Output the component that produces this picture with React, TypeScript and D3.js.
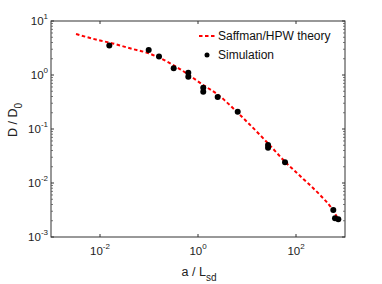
import React from 'react';
import * as d3 from 'd3';

// simulation points (a / L_sd, D / D0)
const simA = [0.0155, 0.0986, 0.16, 0.319, 0.634, 0.634, 1.28, 1.28, 2.52, 6.46, 26.9, 26.9, 59.7, 577, 625, 731];
const simD = [3.5, 2.9, 2.2, 1.33, 1.1, 0.93, 0.58, 0.49, 0.39, 0.209, 0.0506, 0.045, 0.0242, 0.00316, 0.00222, 0.00213];

// Saffman/HPW theory curve
const theoryA = [0.00324, 0.01, 0.016, 0.0409, 0.0986, 0.313, 1.28, 2.59, 7.2, 26.8, 59.7, 141, 309, 535, 690];
const theoryD = [5.74, 4.35, 3.96, 3.12, 2.52, 1.53, 0.653, 0.427, 0.182, 0.0543, 0.0248, 0.0119, 0.006, 0.0034, 0.00235];

const xTickExp = [-2, 0, 2];
const yTickExp = [-3, -2, -1, 0, 1];
const legendLabels = ['Saffman/HPW theory', 'Simulation'];

const W = 382, H = 284;
const left = 51, right = 345, top = 21, bottom = 237;
const font = '"Liberation Sans", Arial, sans-serif';

const App = () => {
  const x = d3.scaleLog().domain([1e-3, 1e3]).range([left, right]);
  const y = d3.scaleLog().domain([1e-3, 1e1]).range([bottom, top]);

  const line = d3.line<number>()
    .x((d, i) => x(theoryA[i]))
    .y(d => y(d))
    .curve(d3.curveMonotoneX);

  // minor ticks on y: 2..9 of each decade
  const yMinor: number[] = [];
  for (let e = -3; e < 1; e++) {
    for (let m = 2; m <= 9; m++) yMinor.push(m * Math.pow(10, e));
  }

  return (
    <svg width={W} height={H} style={{position: 'absolute', left: 0, top: 0, background: '#fff'}}
      fontFamily={font}>
      {/* theory line */}
      <path d={line(theoryD) || ''} fill="none" stroke="#ff0000" strokeWidth={2}
        strokeDasharray="3.5,2.5" />

      {/* simulation points */}
      {simA.map((a, i) => (
        <circle key={i} cx={x(a)} cy={y(simD[i])} r={3} fill="#000" />
      ))}

      {/* box */}
      <rect x={left} y={top} width={right - left} height={bottom - top}
        fill="none" stroke="#333" strokeWidth={1} />

      {/* y ticks */}
      {yTickExp.map(e => {
        const yy = y(Math.pow(10, e));
        return (
          <g key={'y' + e}>
            <line x1={left} x2={left + 3} y1={yy} y2={yy} stroke="#333" />
            <line x1={right} x2={right - 3} y1={yy} y2={yy} stroke="#333" />
            <text x={48} y={yy + 4} textAnchor="end" fontSize={11.5} fill="#222">
              10<tspan dy={-6} fontSize={8}>{e}</tspan>
            </text>
          </g>
        );
      })}
      {yMinor.map((v, i) => (
        <g key={'ym' + i}>
          <line x1={left} x2={left + 2} y1={y(v)} y2={y(v)} stroke="#555" strokeWidth={0.8} />
          <line x1={right} x2={right - 2} y1={y(v)} y2={y(v)} stroke="#555" strokeWidth={0.8} />
        </g>
      ))}

      {/* x ticks */}
      {xTickExp.map(e => {
        const xx = x(Math.pow(10, e));
        return (
          <g key={'x' + e}>
            <line x1={xx} x2={xx} y1={bottom} y2={bottom - 3} stroke="#333" />
            <line x1={xx} x2={xx} y1={top} y2={top + 3} stroke="#333" />
            <text x={xx} y={255} textAnchor="middle" fontSize={11.5} fill="#222">
              10<tspan dy={-6} fontSize={8}>{e}</tspan>
            </text>
          </g>
        );
      })}

      {/* axis titles */}
      <text x={199} y={276} textAnchor="middle" fontSize={12.5} fill="#222">
        a / L<tspan dy={5} fontSize={10}>sd</tspan>
      </text>
      <text transform="translate(17,120) rotate(-90)" textAnchor="middle" fontSize={12.5} fill="#222">
        D / D<tspan dy={5} fontSize={10}>0</tspan>
      </text>

      {/* legend */}
      <line x1={199} x2={216} y1={36} y2={36} stroke="#ff0000" strokeWidth={2} strokeDasharray="3.5,2.5" />
      <text x={218} y={40} fontSize={12} fill="#111">{legendLabels[0]}</text>
      <circle cx={207} cy={55} r={2.5} fill="#000" />
      <text x={218} y={59} fontSize={12} fill="#111">{legendLabels[1]}</text>
    </svg>
  );
};

export default App;
